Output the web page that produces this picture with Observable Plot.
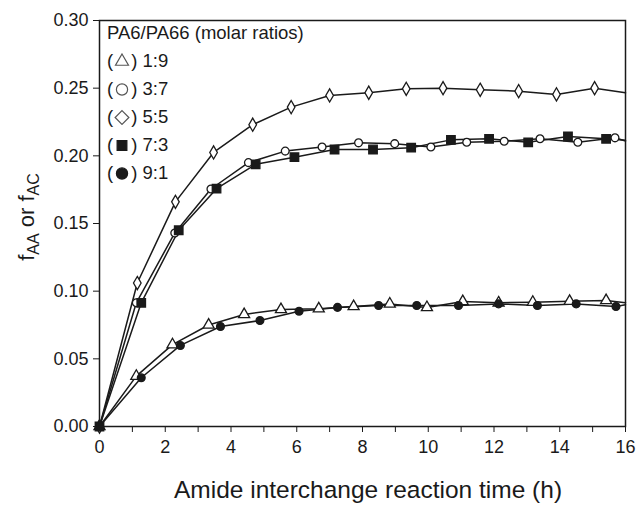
<!DOCTYPE html>
<html>
<head>
<meta charset="utf-8">
<script src="https://cdn.jsdelivr.net/npm/d3@7"></script>
<script src="https://cdn.jsdelivr.net/npm/@observablehq/plot@0.6"></script>
<style>
  body { margin: 0; background: #fff; }
  #wrap { position: relative; width: 636px; height: 508px; font-family: "Liberation Sans", Arial, sans-serif; color: #1a1a1a; }
  #legend { position: absolute; left: 107px; top: 19px; font-size: 18.5px; line-height: 28px; }
  #legend .row { display: flex; align-items: center; height: 28px; white-space: nowrap; }
  #legend svg { display: block; margin: 0 1px; }
</style>
</head>
<body>
<div id="wrap"><div id="legend"></div></div>
<script>
// ---- data ----
const legendTitle = "PA6/PA66 (molar ratios)";
const seriesNames = ["1:9", "3:7", "5:5", "7:3", "9:1"];
const seriesSymbols = ["triangle", "circle", "diamond", "square", "circle"];
const seriesFilled = [false, false, false, true, true];

const t_1_9 = [0, 1.12, 2.22, 3.32, 4.40, 5.52, 6.67, 7.73, 8.83, 9.96, 11.05, 12.14, 13.18, 14.30, 15.41, 16];
const v_1_9 = [0, 0.0372, 0.0605, 0.0750, 0.0828, 0.0865, 0.0870, 0.0887, 0.0906, 0.0880, 0.0924, 0.0914, 0.0919, 0.0926, 0.0931, 0.0915];

const t_3_7 = [0, 1.12, 2.29, 3.39, 4.53, 5.65, 6.77, 7.88, 8.98, 10.08, 11.17, 12.31, 13.40, 14.55, 15.68, 16];
const v_3_7 = [0, 0.0914, 0.1430, 0.1755, 0.1950, 0.2035, 0.2065, 0.2096, 0.2090, 0.2065, 0.2100, 0.2108, 0.2126, 0.2100, 0.2133, 0.2110];

const t_5_5 = [0, 1.15, 2.31, 3.47, 4.66, 5.83, 7.00, 8.19, 9.33, 10.45, 11.58, 12.75, 13.90, 15.06, 16];
const v_5_5 = [0, 0.1060, 0.1660, 0.2025, 0.2230, 0.2360, 0.2446, 0.2466, 0.2495, 0.2500, 0.2488, 0.2478, 0.2454, 0.2500, 0.2466];

const t_7_3 = [0, 1.27, 2.41, 3.56, 4.75, 5.93, 7.15, 8.32, 9.48, 10.69, 11.85, 13.04, 14.25, 15.41, 16];
const v_7_3 = [0, 0.0914, 0.1450, 0.1757, 0.1937, 0.1990, 0.2047, 0.2047, 0.2060, 0.2118, 0.2126, 0.2100, 0.2143, 0.2126, 0.2115];

const t_9_1 = [0, 1.27, 2.46, 3.68, 4.88, 6.07, 7.24, 8.49, 9.65, 10.92, 12.14, 13.32, 14.50, 15.71, 16];
const v_9_1 = [0, 0.0360, 0.0599, 0.0739, 0.0783, 0.0852, 0.0880, 0.0894, 0.0894, 0.0894, 0.0906, 0.0894, 0.0906, 0.0887, 0.0900];

const xTicks = [0, 1, 2, 3, 4, 5, 6, 7, 8, 9, 10, 11, 12, 13, 14, 15, 16];
const yTicks = [0, 0.05, 0.10, 0.15, 0.20, 0.25, 0.30];
const xLabel = "Amide interchange reaction time (h)";

// ---- build table ----
const times = [t_1_9, t_3_7, t_5_5, t_7_3, t_9_1];
const values = [v_1_9, v_3_7, v_5_5, v_7_3, v_9_1];
const rows = [];
seriesNames.forEach((s, i) => {
  times[i].forEach((t, j) => {
    rows.push({series: s, idx: i, t, v: values[i][j], marker: t < 16});
  });
});

const ink = "#1a1a1a";
const markerR = {triangle: 4.1, circle: 3.9, diamond: 4.0, square: 4.8};
const dotMarks = seriesNames.map((s, i) => Plot.dot(rows.filter(d => d.series === s && d.marker), {
  x: "t", y: "v",
  symbol: () => seriesSymbols[i],
  r: markerR[seriesSymbols[i]],
  fill: seriesFilled[i] ? ink : "white",
  stroke: ink,
  strokeWidth: 1.3
}));
// draw open markers first, filled on top
const order = [0, 1, 2, 3, 4].sort((a, b) => (seriesFilled[a] - seriesFilled[b]));

const chart = Plot.plot({
  width: 636,
  height: 508,
  marginLeft: 99,
  marginRight: 11,
  marginTop: 20,
  marginBottom: 82,
  style: {fontFamily: "'Liberation Sans', Arial, sans-serif", fontSize: "18px", background: "white", color: ink},
  x: {domain: [0, 16]},
  y: {domain: [0, 0.30]},
  marks: [
    Plot.axisX({ticks: xTicks, tickFormat: d => (d % 2 === 0 ? String(d) : ""), tickSize: 6, tickPadding: 8, label: null, stroke: ink}),
    Plot.axisY({ticks: yTicks, tickFormat: d3.format(".2f"), tickSize: 6, tickPadding: 5, label: null, stroke: ink}),
    Plot.line(rows, {x: "t", y: "v", z: "series", stroke: ink, strokeWidth: 1.5}),
    ...order.map(i => dotMarks[i]),
    Plot.frame({stroke: ink, strokeWidth: 1.5})
  ]
});

const svg = d3.select(chart);
const xr = chart.scale("x").range, yr = chart.scale("y").range;
svg.append("text")
  .attr("x", (xr[0] + xr[1]) / 2 + 6)
  .attr("y", 498)
  .attr("text-anchor", "middle")
  .style("font-size", "24.5px")
  .attr("fill", ink)
  .text(xLabel);

const yl = svg.append("text")
  .attr("transform", `translate(34,${(yr[0] + yr[1]) / 2 - 6}) rotate(-90)`)
  .attr("text-anchor", "middle")
  .attr("fill", ink)
  .style("font-size", "22px");
yl.append("tspan").text("f");
yl.append("tspan").attr("dy", 5).style("font-size", "16px").text("AA");
yl.append("tspan").attr("dy", -5).text(" or f");
yl.append("tspan").attr("dy", 5).style("font-size", "16px").text("AC");

document.getElementById("wrap").prepend(chart);

// ---- legend overlay ----
const legend = d3.select("#legend");
legend.append("div").attr("class", "row").text(legendTitle);
const symMap = {triangle: d3.symbolTriangle2, circle: d3.symbolCircle, diamond: d3.symbolDiamond2, square: d3.symbolSquare2};
seriesNames.forEach((s, i) => {
  const row = legend.append("div").attr("class", "row");
  row.append("span").text("(");
  const sv = row.append("svg").attr("width", 16).attr("height", 16);
  const r = seriesSymbols[i] === "circle" ? 5.6 : 6.2;
  sv.append("path")
    .attr("transform", "translate(8,8.5)")
    .attr("d", d3.symbol(symMap[seriesSymbols[i]], Math.PI * r * r)())
    .attr("fill", seriesFilled[i] ? ink : "white")
    .attr("stroke", seriesFilled[i] ? ink : "#555")
    .attr("stroke-width", 1.2);
  row.append("span").text(")\u00a0" + s);
});
</script>
</body>
</html>
